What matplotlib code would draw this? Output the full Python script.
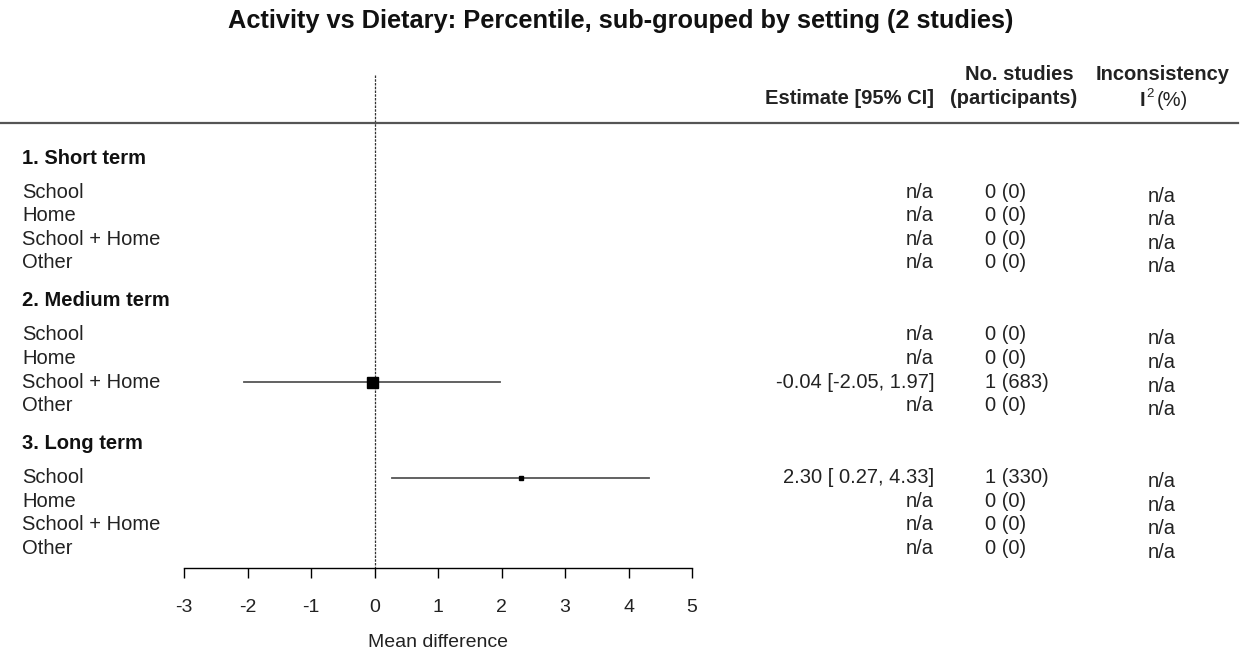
import numpy as np
import matplotlib.pyplot as plt
from matplotlib.transforms import blended_transform_factory

plt.rcParams['font.family'] = ['Liberation Sans', 'DejaVu Sans']

title = "Activity vs Dietary: Percentile, sub-grouped by setting (2 studies)"
groups = ["1. Short term", "2. Medium term", "3. Long term"]
settings = ["School", "Home", "School + Home", "Other"]

# one entry per (group, setting); None = no data
est = [None, None, None, None,
       None, None, -0.04, None,
       2.30, None, None, None]
lo = [None, None, None, None,
      None, None, -2.05, None,
      0.27, None, None, None]
hi = [None, None, None, None,
      None, None, 1.97, None,
      4.33, None, None, None]
est_txt = ["n/a", "n/a", "n/a", "n/a",
           "n/a", "n/a", "-0.04 [-2.05, 1.97]", "n/a",
           "2.30 [ 0.27, 4.33]", "n/a", "n/a", "n/a"]
studies_txt = ["0 (0)", "0 (0)", "0 (0)", "0 (0)",
               "0 (0)", "0 (0)", "1 (683)", "0 (0)",
               "1 (330)", "0 (0)", "0 (0)", "0 (0)"]
i2_txt = ["n/a"] * 12
msize = [0, 0, 0, 0, 0, 0, 11, 0, 4, 0, 0, 0]  # marker size by weight
xticks = [-3, -2, -1, 0, 1, 2, 3, 4, 5]

W, H = 1242, 653
fs = 14.5
txtc = "#222222"
fig = plt.figure(figsize=(W / 100, H / 100), dpi=100)
ax_l, ax_r, ax_b = 184, 692, 568
ax = fig.add_axes([ax_l / W, (H - ax_b) / H, (ax_r - ax_l) / W, ax_b / H])
ax.set_xlim(-3, 5)
ax.set_ylim(ax_b, 0)
ax.patch.set_visible(False)
for s in ["top", "left", "right"]:
    ax.spines[s].set_visible(False)
ax.spines["bottom"].set_bounds(-3, 5)
ax.spines["bottom"].set_linewidth(1.0)
ax.set_yticks([])
ax.set_xticks(xticks)
ax.set_xticklabels([str(t) for t in xticks], fontsize=14, color=txtc)
ax.tick_params(axis="x", length=7.5, width=1.0, pad=15)
ax.set_xlabel("Mean difference", fontsize=14, color=txtc, labelpad=13)

tr = blended_transform_factory(fig.transFigure, ax.transData)
fx = lambda px: px / W

# layout of rows
y = 158
group_y, row_y = [], []
for g in groups:
    group_y.append(y)
    y += 34
    for k in range(len(settings)):
        row_y.append(y)
        y += 23.6
    y += 38 - 23.6

# null line
ax.plot([0, 0], [75, ax_b], color="#333333", lw=0.9, ls=(0, (2, 1)), clip_on=False)

# header line
ax.plot([fx(0), fx(1238)], [123, 123], transform=tr, color="#555555", lw=1.6, clip_on=False)

fig.text(0.5, 1 - 21 / H, title, ha="center", va="center", fontsize=18.3, fontweight="bold", color="#111111")

hdr = dict(transform=tr, fontsize=fs, fontweight="bold", color=txtc, va="center")
ax.text(fx(934), 98, "Estimate [95% CI]", ha="right", **hdr)
ax.text(fx(1019), 75, "No. studies", ha="center", **hdr)
ax.text(fx(1014), 98, "(participants)", ha="center", **hdr)
ax.text(fx(1163), 75, "Inconsistency", ha="center", **hdr)
ax.text(fx(1140), 101, "I", ha="left", **hdr)
ax.text(fx(1146), 94, "2", ha="left", transform=tr, fontsize=9.5, color=txtc, va="center")
ax.text(fx(1157), 101, "(%)", ha="left", transform=tr, fontsize=fs, color=txtc, va="center")

for g, gy in zip(groups, group_y):
    ax.text(fx(22), gy, g, transform=tr, ha="left", va="center", fontsize=fs,
            fontweight="bold", color="#111111")

for i, ry in enumerate(row_y):
    ax.text(fx(22), ry, settings[i % len(settings)], transform=tr, ha="left", va="center",
            fontsize=fs, color=txtc)
    ax.text(fx(934), ry, est_txt[i], transform=tr, ha="right", va="center", fontsize=fs, color=txtc)
    ax.text(fx(985), ry, studies_txt[i], transform=tr, ha="left", va="center", fontsize=fs, color=txtc)
    ax.text(fx(1162), ry + 4, i2_txt[i], transform=tr, ha="center", va="center", fontsize=fs, color=txtc)
    if est[i] is not None:
        ax.plot([lo[i], hi[i]], [ry, ry], color="#555555", lw=1.3, clip_on=False)
        ax.plot([est[i]], [ry], marker="s", ms=msize[i] * 0.72, color="black", clip_on=False)

fig.savefig("out.png", dpi=100)
